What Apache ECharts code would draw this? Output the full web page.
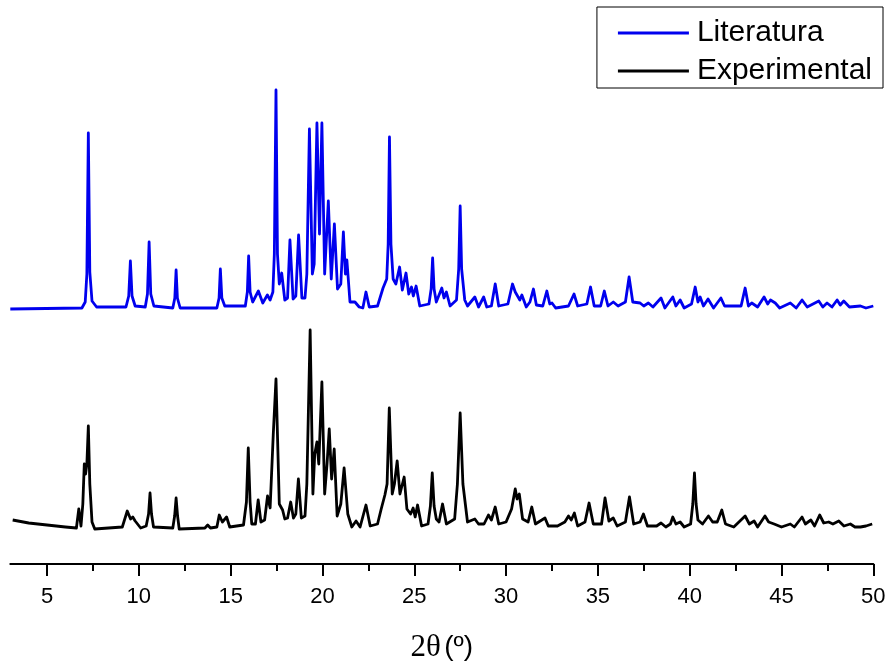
<!DOCTYPE html>
<html>
<head>
<meta charset="utf-8">
<script src="https://cdn.jsdelivr.net/npm/echarts@6/dist/echarts.min.js"></script>
<style>
  html, body { margin: 0; padding: 0; background: #fff; }
  #chart { width: 891px; height: 664px; }
</style>
</head>
<body>
<div id="chart"></div>
<script>
// X-ray powder diffraction patterns, intensity in arbitrary units (Literatura is stacked above Experimental)
const seriesNames = ['Literatura', 'Experimental'];

const majorTicks = [5, 10, 15, 20, 25, 30, 35, 40, 45, 50];
const minorTicks = [7.5, 12.5, 17.5, 22.5, 27.5, 32.5, 37.5, 42.5, 47.5];

const litTheta = [
  3.0, 6.9, 7.08, 7.17, 7.25, 7.33, 7.45, 7.7,
  9.3, 9.45, 9.54, 9.63, 9.8,
  10.35, 10.47, 10.56, 10.65, 10.82,
  11.85, 11.96, 12.03, 12.1, 12.25,
  14.25, 14.37, 14.44, 14.52, 14.68,
  15.8, 15.91, 15.98, 16.06, 16.2, 16.51, 16.75, 17.0, 17.15,
  17.3, 17.38, 17.47, 17.55, 17.65, 17.78, 17.95,
  18.1, 18.23, 18.4, 18.55, 18.7, 18.88, 19.05,
  19.15, 19.29, 19.45, 19.55, 19.7, 19.84, 19.97, 20.12,
  20.32, 20.48, 20.65, 20.82, 21.0, 21.14, 21.25, 21.33, 21.5,
  21.77, 22.0, 22.2, 22.37, 22.55, 23.0, 23.3, 23.5,
  23.58, 23.65, 23.73, 23.85, 24.0, 24.2, 24.35, 24.55, 24.7, 24.85, 24.95,
  25.1, 25.3, 25.8, 25.92, 26.0, 26.08, 26.2, 26.5, 26.62, 26.75, 26.95,
  27.3, 27.42, 27.5, 27.58, 27.75, 27.9,
  28.3, 28.5, 28.78, 28.95, 29.2, 29.41, 29.6, 30.1, 30.35, 30.5, 30.6, 30.75, 30.86, 31.1, 31.3, 31.49,
  31.65, 32.0, 32.22, 32.38, 32.5, 32.7, 33.4, 33.7, 33.9, 34.4, 34.6, 34.8, 35.15, 35.35, 35.55,
  35.84, 36.1, 36.5, 36.7, 36.9, 37.3, 37.5, 37.75, 38.0, 38.44, 38.65, 39.08, 39.25, 39.48,
  39.7, 40.1, 40.3, 40.45, 40.57, 40.75, 41.0, 41.3, 41.7, 41.9, 42.8, 43.02, 43.2, 43.38, 43.7,
  44.05, 44.25, 44.4, 44.66, 44.9, 45.48, 45.8, 46.12, 46.4, 47.03, 47.25, 47.48, 47.75, 48.03,
  48.2, 48.39, 48.7, 49.3, 49.6, 50.0
];
const litIntensity = [
  255, 256, 262, 290, 431, 292, 263, 257,
  257, 268, 303, 268, 258,
  257, 270, 322, 270, 258,
  256, 266, 294, 266, 256,
  256, 266, 295, 266, 258,
  258, 272, 308, 272, 262, 273, 261, 269, 264,
  272, 310, 474, 310, 280, 291, 264,
  266, 324, 265, 268, 329, 266, 266,
  290, 435, 290, 300, 441, 330, 441, 290,
  363, 285, 340, 275, 280, 332, 290, 304, 262,
  262, 257, 256, 272, 257, 258, 276, 285,
  320, 427, 320, 285, 280, 297, 274, 291, 270, 277, 268,
  278, 258, 260, 275, 306, 275, 262, 276, 266, 272, 258,
  264, 295, 358, 295, 264, 258,
  267, 257, 267, 257, 258, 280, 258, 260, 280, 272, 271, 264, 269, 257, 262, 275,
  259, 258, 273, 260, 261, 256, 258, 270, 258, 260, 277, 258, 258, 273, 258,
  262, 258, 262, 287, 262, 261, 258, 261, 257, 266, 256, 267, 258, 264,
  256, 260, 277, 262, 267, 258, 265, 256, 266, 258, 258, 276, 258, 261, 257,
  267, 260, 264, 261, 256, 261, 256, 264, 257, 263, 257, 261, 257, 264,
  259, 263, 257, 258, 256, 258
];

const expTheta = [
  3.13, 4.0, 5.0, 6.0, 6.6, 6.73, 6.85, 6.95, 7.03, 7.1, 7.17, 7.25, 7.33, 7.45, 7.6,
  9.1, 9.37, 9.55, 9.67, 9.8, 9.85, 10.1, 10.4, 10.53, 10.61, 10.69, 10.8,
  11.85, 11.95, 12.03, 12.11, 12.2, 13.6, 13.75, 13.9, 14.25, 14.38, 14.55, 14.78, 14.95,
  15.7, 15.86, 15.96, 16.06, 16.15, 16.35, 16.5, 16.65, 16.85, 17.01, 17.15, 17.32, 17.47, 17.65,
  17.83, 17.95, 18.1, 18.27, 18.42, 18.55, 18.69, 18.85, 19.05, 19.15, 19.33, 19.48, 19.58, 19.7,
  19.8, 19.97, 20.12, 20.25, 20.37, 20.5, 20.64, 20.8, 21.0, 21.18, 21.38, 21.6, 21.83, 22.05,
  22.37, 22.6, 23.0, 23.2, 23.4, 23.52, 23.64, 23.8, 23.92, 24.07, 24.22, 24.45, 24.6, 24.8,
  24.94, 25.05, 25.18, 25.4, 25.75, 25.88, 25.98, 26.08, 26.2, 26.35, 26.54, 26.75, 27.2, 27.35, 27.5, 27.65,
  27.9, 28.3, 28.5, 28.8, 29.04, 29.2, 29.41, 29.6, 30.0, 30.3, 30.5, 30.6, 30.72, 30.9, 31.2,
  31.4, 31.6, 32.12, 32.3, 32.8, 33.2, 33.4, 33.55, 33.72, 33.9, 34.3, 34.52, 34.75, 35.2, 35.39,
  35.6, 35.84, 36.05, 36.5, 36.72, 36.95, 37.3, 37.48, 37.7, 38.2, 38.44, 38.7, 38.95, 39.08,
  39.25, 39.48, 39.7, 40.05, 40.17, 40.26, 40.35, 40.45, 40.7, 41.02, 41.25, 41.5, 41.75, 41.95, 42.4, 43.02,
  43.25, 43.51, 43.7, 44.1, 44.3, 44.6, 45.0, 45.48, 45.7, 46.12, 46.3, 46.6, 46.8, 47.08, 47.3,
  47.57, 47.8, 48.12, 48.4, 48.75, 49.0, 49.3, 49.6, 49.94
];
const expIntensity = [
  44, 41, 39, 37, 36, 55, 38, 60, 100, 90, 100, 138, 80, 42, 35,
  37, 53, 45, 47, 43, 45, 36, 38, 50, 71, 50, 37,
  36, 48, 66, 48, 35, 36, 39, 36, 37, 49, 42, 47, 37,
  39, 62, 116, 62, 40, 40, 64, 42, 44, 68, 56, 129, 185, 60,
  54, 45, 46, 62, 46, 50, 85, 46, 48, 80, 234, 70, 110, 122,
  100, 182, 70, 100, 135, 85, 115, 48, 60, 96, 50, 37, 43, 37,
  59, 38, 40, 55, 69, 80, 156, 70, 80, 103, 70, 87, 55, 50,
  56, 47, 59, 38, 40, 58, 91, 58, 45, 42, 60, 40, 45, 80, 151, 80,
  42, 45, 40, 40, 49, 44, 57, 40, 42, 55, 75, 65, 70, 45, 42,
  57, 40, 46, 38, 38, 42, 48, 44, 51, 38, 42, 61, 40, 40, 66,
  43, 46, 38, 42, 67, 40, 42, 50, 38, 38, 41, 37, 40, 47,
  40, 42, 37, 40, 60, 91, 60, 44, 40, 48, 42, 42, 54, 40, 37, 48,
  40, 43, 37, 48, 42, 40, 37, 40, 37, 47, 40, 44, 38, 49, 41,
  42, 40, 43, 38, 40, 37, 37, 38, 40
];

const pair = (xs, ys) => xs.map((x, i) => [x, ys[i]]);

const chart = echarts.init(document.getElementById('chart'), null, { renderer: 'canvas' });

const sans = '"Liberation Sans", Arial, sans-serif';
const serif = '"Liberation Serif", "Times New Roman", serif';

chart.setOption({
  animation: false,
  backgroundColor: '#ffffff',
  grid: { left: 10.3, right: 17.7, top: 64, bottom: 100, outerBoundsMode: 'none' },
  legend: {
    orient: 'vertical',
    right: 8,
    top: 7,
    padding: [10, 11, 1, 21],
    itemGap: 6,
    itemWidth: 71,
    itemHeight: 3,
    icon: 'rect',
    borderColor: '#000',
    borderWidth: 1,
    borderRadius: 0,
    backgroundColor: '#fff',
    textStyle: { fontFamily: sans, fontSize: 30, color: '#000', lineHeight: 32, padding: [0, 0, 0, 3] },
    data: seriesNames
  },
  xAxis: [
    {
      type: 'value',
      min: 3,
      max: 50,
      name: '{s|2θ} {n|(º)}',
      nameLocation: 'middle',
      nameGap: 68,
      nameTextStyle: {
        rich: {
          s: { fontFamily: serif, fontSize: 31, color: '#000' },
          n: { fontFamily: sans, fontSize: 28, color: '#000' }
        }
      },
      axisLine: { show: true, onZero: false, lineStyle: { color: '#000', width: 2 } },
      axisTick: { show: true, inside: false, length: 12, customValues: majorTicks, lineStyle: { color: '#000', width: 2 } },
      axisLabel: { show: true, customValues: majorTicks, margin: 22, fontFamily: sans, fontSize: 22, color: '#000' },
      splitLine: { show: false }
    },
    {
      type: 'value',
      min: 3,
      max: 50,
      position: 'bottom',
      axisLine: { show: false, onZero: false },
      axisTick: { show: true, inside: false, length: 7, customValues: minorTicks, lineStyle: { color: '#000', width: 2 } },
      axisLabel: { show: false },
      splitLine: { show: false }
    }
  ],
  yAxis: {
    type: 'value',
    min: 0,
    max: 500,
    show: false,
    splitLine: { show: false }
  },
  series: [
    {
      name: seriesNames[0],
      type: 'line',
      data: pair(litTheta, litIntensity),
      showSymbol: false,
      symbol: 'none',
      color: '#0000ee',
      lineStyle: { color: '#0000ee', width: 2.8, join: 'round' }
    },
    {
      name: seriesNames[1],
      type: 'line',
      data: pair(expTheta, expIntensity),
      showSymbol: false,
      symbol: 'none',
      color: '#000000',
      lineStyle: { color: '#000000', width: 2.8, join: 'round' }
    }
  ]
});
</script>
</body>
</html>
